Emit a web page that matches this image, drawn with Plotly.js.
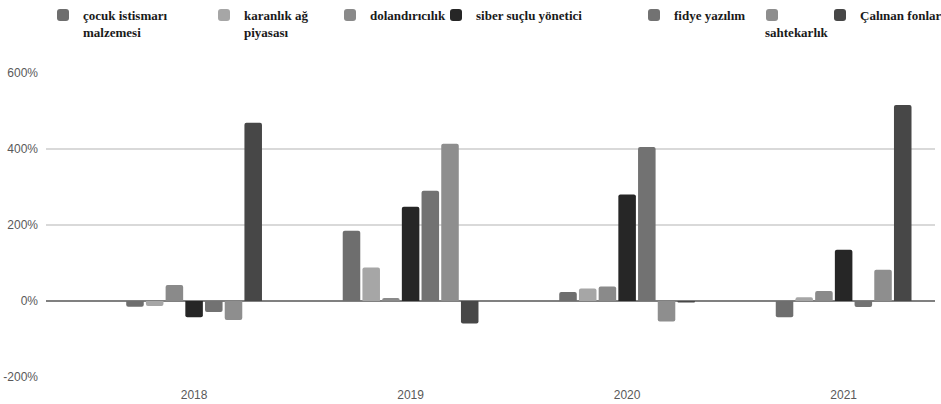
<!DOCTYPE html>
<html>
<head>
<meta charset="utf-8">
<script src="https://cdn.plot.ly/plotly-3.0.1.min.js"></script>
<style>html,body{margin:0;padding:0;background:#fff;}#chart{width:941px;height:404px;}</style>
</head>
<body>
<div id="chart"></div>
<script>
// Categories (years)
const years = ['2018', '2019', '2020', '2021'];

// Series names (legend labels)
const seriesNames = [
  'çocuk istismarı<br>malzemesi',
  'karanlık ağ<br>piyasası',
  'dolandırıcılık',
  'siber suçlu yönetici',
  'fidye yazılım',
  '\u00a0',
  'Çalınan fonlar'
];
// Label drawn under its legend swatch (as in the reference)
const sahtekarLabel = 'sahtekarlık';

// Series values (% change)
const cocuk      = [-15, 185, 24, -43];
const karanlik   = [-13, 88, 33, 10];
const dolandir   = [42, 8, 38, 26];
const siber      = [-43, 248, 280, 135];
const fidye      = [-29, 290, 405, -16];
const sahtekar   = [-50, 414, -54, 82];
const calinan    = [469, -59, -4, 516];

const seriesValues = [cocuk, karanlik, dolandir, siber, fidye, sahtekar, calinan];
const seriesColors = ['#6e6e6e', '#a6a6a6', '#8a8a8a', '#262626', '#727272', '#8e8e8e', '#474747'];

// Legend positions (container px: left, top)
const legendPos = [[43, 0], [204, 0], [330, 0], [436, 0], [634, 0], [752, 0], [820, 0]];

const W = 941, H = 404;
const traces = seriesValues.map((vals, i) => ({
  type: 'bar',
  name: seriesNames[i],
  x: years,
  y: vals,
  marker: {color: seriesColors[i], line: {width: 0}},
  legend: i === 0 ? 'legend' : 'legend' + (i + 1),
  showlegend: true,
  hoverinfo: 'skip'
}));

const legendFont = {family: 'Liberation Serif, Times New Roman, serif', size: 13, color: '#1a1a1a', weight: 'bold'};

const layout = {
  width: W, height: H,
  paper_bgcolor: '#ffffff', plot_bgcolor: '#ffffff',
  margin: {l: 46, r: 6, t: 73, b: 26.5, autoexpand: false},
  showlegend: true,
  barmode: 'group',
  bargap: 0.363,
  bargroupgap: 0.11,
  barcornerradius: 2,
  xaxis: {
    type: 'category',
    range: [-0.684, 3.422],
    showgrid: false, zeroline: false, showline: false,
    ticks: '',
    automargin: false,
    ticklabelstandoff: 9,
    tickfont: {family: 'Liberation Sans, Arial, sans-serif', size: 12, color: '#595959'},
    fixedrange: true
  },
  yaxis: {
    range: [-200, 600],
    tickvals: [-200, 0, 200, 400, 600],
    ticktext: ['-200%', '0%', '200%', '400%', '600%'],
    showgrid: true, gridcolor: '#d9d9d9', gridwidth: 1.5,
    zeroline: true, zerolinecolor: '#808080', zerolinewidth: 1.5,
    showline: false, ticks: '',
    automargin: false,
    ticklabelstandoff: 7,
    tickfont: {family: 'Liberation Sans, Arial, sans-serif', size: 12, color: '#595959'},
    fixedrange: true
  },
  font: {family: 'Liberation Serif, Times New Roman, serif'},
  annotations: [{
    text: sahtekarLabel,
    xref: 'paper', yref: 'paper',
    x: (763 - 46) / 889, y: (404 - 26.5 - 32) / 304.5,
    xanchor: 'left', yanchor: 'middle',
    showarrow: false,
    font: legendFont
  }]
};

legendPos.forEach((p, i) => {
  const key = i === 0 ? 'legend' : 'legend' + (i + 1);
  layout[key] = {
    xref: 'container', yref: 'container',
    x: p[0] / W, y: 1 - p[1] / H,
    xanchor: 'left', yanchor: 'top',
    orientation: 'v',
    visible: true,
    bgcolor: 'rgba(0,0,0,0)', borderwidth: 0,
    valign: 'top',
    font: legendFont
  };
});

Plotly.newPlot('chart', traces, layout, {displayModeBar: false, staticPlot: true});
</script>
</body>
</html>
